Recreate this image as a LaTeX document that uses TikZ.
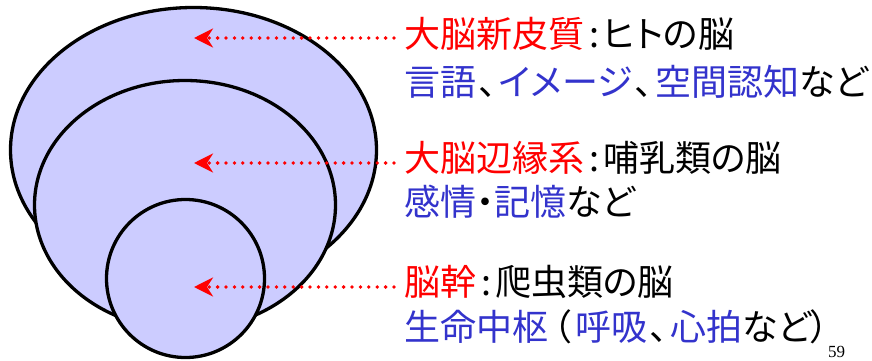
\documentclass[tikz,border=0pt]{standalone}
\usepackage{fontspec}
\setmainfont{Liberation Serif}
\newfontfamily\jp[RawFeature=+palt]{Noto Sans CJK JP}
\usetikzlibrary{shapes.geometric,arrows.meta}
\definecolor{lav}{RGB}{204,204,255}
\definecolor{tblue}{RGB}{51,51,204}
\definecolor{tred}{RGB}{255,0,0}
\newcommand{\tc}{\hspace{2.5pt}、\hspace{2.5pt}}
\newcommand{\lp}{\hspace{5pt}（\hspace{4pt}}
\newcommand{\col}{\hspace{5pt}:\hspace{4pt}}
\begin{document}
\begin{tikzpicture}[x=1pt,y=-1pt,
  zone/.style={ellipse, draw=black, line width=3.3pt, fill=lav, inner sep=0pt, outer sep=0pt},
  txt/.style={anchor=base west, inner sep=0pt, font=\jp\fontsize{36}{40}\selectfont},
  arr/.style={draw=tred, line width=3.8pt, dash pattern=on 0pt off 8.4pt, line cap=round,
    -{Stealth[length=19pt,width=19pt,inset=6pt]}}]
\useasboundingbox (0,0) rectangle (872,361);
% regions
\node[zone, minimum width=366pt, minimum height=285pt] (neo) at (193.5,150) {};
\node[zone, minimum width=301pt, minimum height=249pt] (limbic) at (185,205) {};
\node[zone, minimum width=158pt, minimum height=158pt] (stem) at (185.5,278.5) {};
% arrow ends
\coordinate (c1) at (194,38);
\coordinate (c2) at (194,163);
\coordinate (c3) at (194,287);
\coordinate (s1) at (394,38);
\coordinate (s2) at (394,163);
\coordinate (s3) at (394,287);
% texts
\node[txt] (a1) at (404,47.5) {\textcolor{tred}{大脳新皮質}\col ヒトの脳};
\node[txt] (a2) at (404,95) {\textcolor{tblue}{言語}\tc\textcolor{tblue}{イメージ}\tc\textcolor{tblue}{空間認知}など};
\node[txt] (b1) at (404,171.5) {\textcolor{tred}{大脳辺縁系}\col 哺乳類の脳};
\node[txt] (b2) at (404,215.5) {\textcolor{tblue}{感情}・\textcolor{tblue}{記憶}など};
\node[txt] (d1) at (404,295.5) {\textcolor{tred}{脳幹}\col 爬虫類の脳};
\node[txt] (d2) at (404,340.5) {\textcolor{tblue}{生命中枢}\lp\textcolor{tblue}{呼吸}\tc\textcolor{tblue}{心拍}など）};
\node[anchor=base west, inner sep=0pt, font=\fontsize{17}{20}\selectfont] (pg) at (828,357) {59};
% arrows
\draw[arr] (s1) -- (c1);
\draw[arr] (s2) -- (c2);
\draw[arr] (s3) -- (c3);
\end{tikzpicture}
\end{document}
